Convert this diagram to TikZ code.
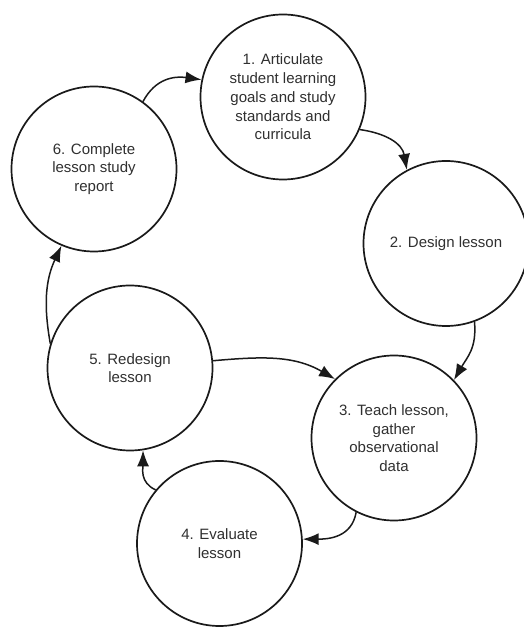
\documentclass[tikz,border=0pt]{standalone}
\usepackage{fontspec}
\setmainfont{Liberation Sans}
\usetikzlibrary{arrows.meta}
\definecolor{inktext}{HTML}{303030}
\definecolor{inkline}{HTML}{1A1A1A}
\begin{document}
\begin{tikzpicture}[x=1pt,y=1pt,
  stage/.style={circle, draw=inkline, line width=1.7pt, fill=white,
    minimum size=165pt, inner sep=0pt, align=center, text=inktext,
    font=\fontsize{15}{18.7}\selectfont},
  flow/.style={draw=inkline, line width=1.5pt,
    -{Latex[length=16pt,width=12pt]}}]
  \useasboundingbox (0,0) rectangle (524,627);
  \fill[white] (0,0) rectangle (524,627);

  % the six stages of the cycle
  \node[stage] (c1) at (283,530) {1. Articulate\\student learning\\goals and study\\standards and\\curricula};
  \node[stage] (c2) at (446,383.5) {2. Design lesson};
  \node[stage] (c3) at (394,189) {3. Teach lesson,\\gather\\observational\\data};
  \node[stage] (c4) at (219.5,83.5) {4. Evaluate\\lesson};
  \node[stage] (c5) at (130,259) {5. Redesign\\lesson};
  \node[stage] (c6) at (94,458) {6. Complete\\lesson study\\report};

  % connectors between stages
  \draw[flow] (c6.54)  to[out=62, in=172, looseness=1.1] (c1.168);
  \draw[flow] (c1.-23) to[out=-8, in=100, looseness=1.1] (c2.118);
  \draw[flow] (c2.-70) to[out=-85, in=60, looseness=1.1] (c3.44);
  \draw[flow] (c3.-117) to[out=-100, in=0, looseness=1.1] (c4.3);
  \draw[flow] (c4.140) to[out=155, in=-90, looseness=1.1] (c5.-81);
  \draw[flow] (c5.5)   to[out=5, in=150, looseness=1.0] (c3.135);
  \draw[flow] (c5.163) to[out=100, in=-115, looseness=1.0] (c6.247);
\end{tikzpicture}
\end{document}
